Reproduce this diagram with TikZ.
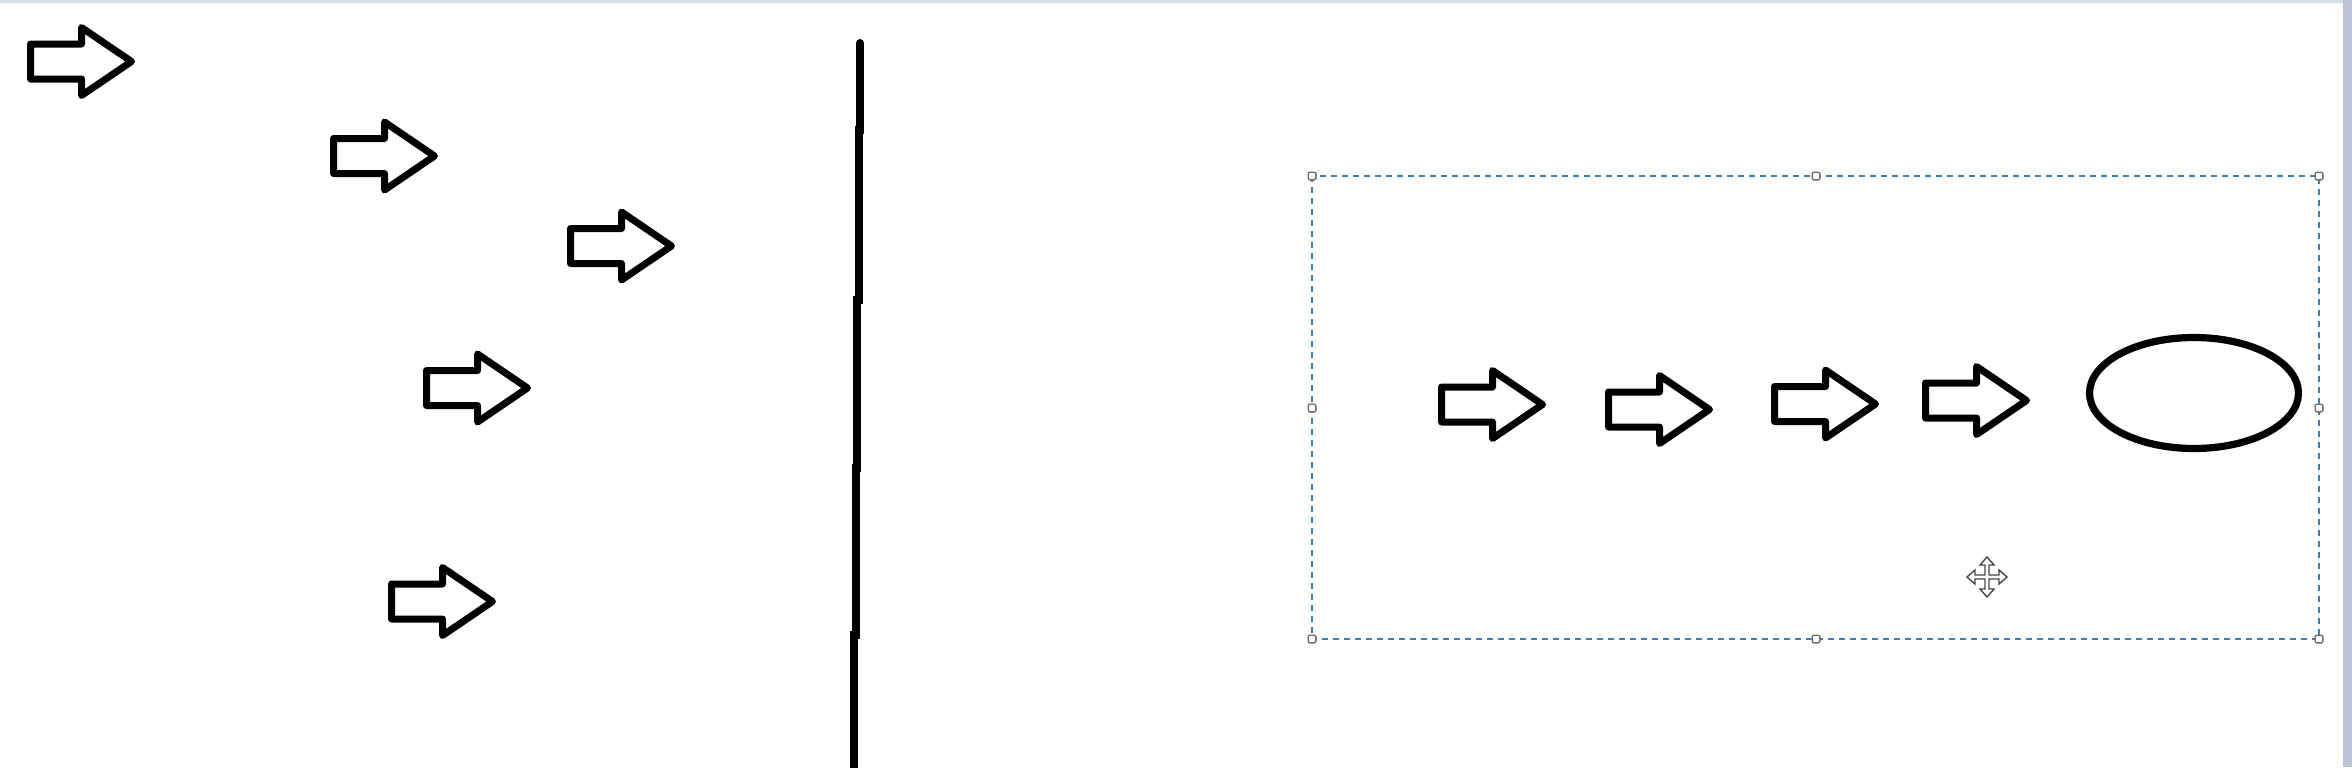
\documentclass[tikz,border=0pt]{standalone}
\begin{document}
\begin{tikzpicture}[x=0.5pt,y=-0.5pt,
  blockarr/.style={draw=black,line width=3.5pt,line join=round,fill=white},
  shapeline/.style={draw=black,line width=3.6pt},
  divider/.style={draw=black,line width=4pt,line cap=round},
  selbox/.style={draw=selblue,line width=1pt,dash pattern=on 3pt off 2.5pt},
  handle/.style={draw=handlegray,fill=white,line width=0.7pt,minimum size=3.8pt,inner sep=0pt,rounded corners=0.6pt},
  cursorshape/.style={draw=cursorgray,fill=white,line width=0.7pt,line join=miter}]
\definecolor{selblue}{RGB}{60,128,178}
\definecolor{handlegray}{RGB}{110,110,110}
\definecolor{cursorgray}{RGB}{70,70,70}
\definecolor{topstrip}{RGB}{214,222,233}
\definecolor{sidebar}{RGB}{186,196,212}
\newcommand\barrow[2]{\draw[blockarr] (#1,#2) ++(0,-17.5) -- ++(51,0) -- ++(0,-16.5) -- ++(50,34) -- ++(-50,34) -- ++(0,-16.5) -- ++(-51,0) -- cycle;}
\useasboundingbox (0,0) rectangle (2352,767);
\fill[white] (0,0) rectangle (2352,767);
\fill[topstrip] (0,0) rectangle (2352,3);
\fill[sidebar] (2343,0) rectangle (2352,767);
% left arrows
\barrow{30.5}{61.5}
\barrow{333.5}{156}
\barrow{570.5}{246}
\barrow{426.5}{388}
\barrow{391.5}{601.5}
% divider line
\draw[divider] (860,43) -- (860,130) -- (858.5,130) -- (858.5,300) -- (857,300) -- (857,468) -- (855.5,468) -- (855.5,635) -- (854,635) -- (854,770);
% selection box
\draw[selbox] (1312,176) rectangle (2319,639);
\foreach \hx/\hy [count=\i] in {1312/176,1816/176,2319/176,1312/408,2319/408,1312/639,1816/639,2319/639}
  \node[handle] (h\i) at (\hx,\hy) {};
% arrows in the box
\barrow{1441.5}{404.5}
\barrow{1608.5}{409.5}
\barrow{1774.5}{404}
\barrow{1925.5}{400.5}
% ellipse
\draw[shapeline] (2194,393) ellipse [x radius=104.5, y radius=55.5];
% move cursor
\draw[cursorshape,shift={(1987,577)}] (0,-20) -- (7,-12) -- (2,-12) -- (2,-2) -- (12,-2) -- (12,-7) -- (20,0) -- (12,7) -- (12,2) -- (2,2) -- (2,12) -- (7,12) -- (0,20) -- (-7,12) -- (-2,12) -- (-2,2) -- (-12,2) -- (-12,7) -- (-20,0) -- (-12,-7) -- (-12,-2) -- (-2,-2) -- (-2,-12) -- (-7,-12) -- cycle;
\end{tikzpicture}
\end{document}
